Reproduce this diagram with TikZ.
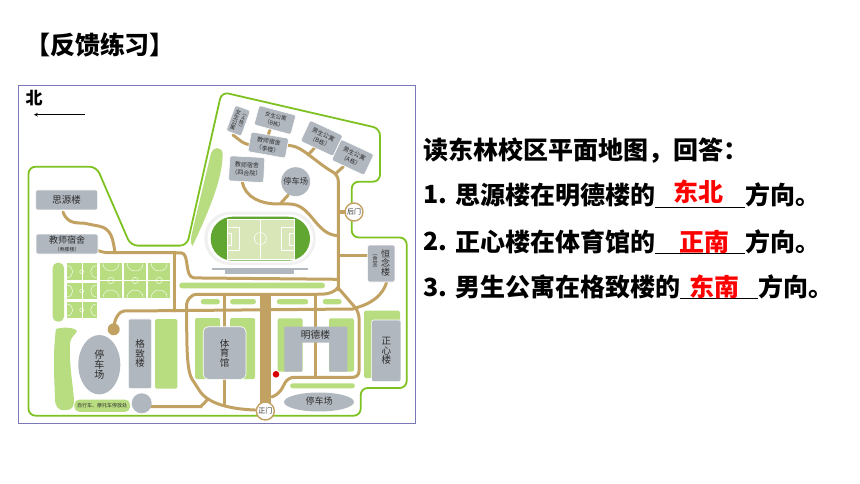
\documentclass[tikz,border=0pt]{standalone}
\usepackage{xcolor}
\usepackage{fontspec}
\setmainfont{Noto Sans CJK SC}
\definecolor{mapfence}{RGB}{126,194,34}
\definecolor{maproad}{RGB}{194,162,99}
\definecolor{mapgrey}{RGB}{177,183,191}
\definecolor{maplawn}{RGB}{184,220,128}
\definecolor{mapfield}{RGB}{98,166,50}
\definecolor{mappitch}{RGB}{217,230,184}
\definecolor{mapframe}{RGB}{123,120,184}
\definecolor{maptext}{RGB}{45,45,45}
\newcommand{\fs}[1]{\fontsize{#1}{#1}\selectfont}
\newcommand{\fl}[1]{\fontsize{#1}{\dimexpr#1pt*13/10\relax}\selectfont}
\tikzset{
  road/.style={draw=maproad, line width=3pt, line cap=round, rounded corners=6pt},
  lawn/.style={fill=maplawn, rounded corners=1.5pt},
  pill/.style={fill=maplawn, rounded corners=2.7pt},
  building/.style={fill=mapgrey, draw=white, line width=0.6pt, rounded corners=2pt, inner sep=0pt, text=maptext, align=center, font=\fs{9.5}},
  sublabel/.style={font=\fs{5.5}, text=maptext, align=center, inner sep=0pt},
  gate/.style={circle, draw=maproad, fill=white, line width=1.4pt, minimum size=18pt, inner sep=0pt, text=maptext, font=\fs{7}},
  question/.style={anchor=west, inner sep=0pt, font=\fs{25}\bfseries},
  answer/.style={inner sep=0pt, text=red, font=\fs{25}\bfseries},
  blank/.style={draw=black, line width=0.8pt},
  smallcourt/.pic={
    \fill[maplawn] (-15,-8.3) rectangle (15,8.3);
    \draw[white, line width=0.4pt] (0,-8.3) -- (0,8.3);
    \draw[white, line width=0.4pt] (0,0) circle[radius=2];
    \draw[white, line width=0.4pt] (-15,-6) .. controls (-7,-6) and (-7,6) .. (-15,6);
    \draw[white, line width=0.4pt] (15,-6) .. controls (7,-6) and (7,6) .. (15,6);
  },
  bigcourt/.pic={
    \fill[maplawn] (-10.9,-17.2) rectangle (10.9,17.2);
    \draw[white, line width=0.4pt] (-10.9,0) -- (10.9,0);
    \draw[white, line width=0.4pt] (0,0) circle[radius=3.2];
    \draw[white, line width=0.4pt] (-8,-17.2) .. controls (-8,-7) and (8,-7) .. (8,-17.2);
    \draw[white, line width=0.4pt] (-8,17.2) .. controls (-8,7) and (8,7) .. (8,17.2);
  }
}
\begin{document}
\begin{tikzpicture}[x=1pt, y=-1pt]
  \useasboundingbox (0,0) rectangle (860,484);
  % Title
  \node[inner sep=0pt, font=\fs{25}\bfseries] (title) at (100, 45) {【反馈练习】};

  % Map frame and north arrow
  \draw[mapframe, line width=0.8pt] (18, 85.5) rectangle (415.5, 423);
  \node[inner sep=0pt, font=\fs{17}\bfseries] (north) at (34, 98) {北};
  \coordinate (arrowstart) at (85, 114.7);
  \coordinate (arrowend) at (34, 114.7);
  \draw[-stealth, line width=0.7pt] (arrowstart) -- (arrowend);

  % Campus fence
  \draw[mapfence, line width=1.8pt, rounded corners=7pt] (28.5, 240) -- (28.5, 166.7) -- (96.5, 166.7)
    -- (130.7, 245.6) -- (187, 245.6) -- (221.6, 92) -- (380, 128.5) -- (380, 181.7) -- (351.7, 181.7)
    -- (351.7, 237.5) -- (406.7, 237.5) -- (406.7, 388) -- (360.7, 388) -- (360.7, 415.7) -- (28.5, 415.7) -- cycle;

  % Lawns
  \fill[maplawn] (192.5, 246) .. controls (190, 243) and (191, 238) .. (192, 233) -- (211, 153)
    .. controls (213, 147) and (221, 146) .. (222.6, 153) .. controls (223, 175) and (212, 205) .. (192.5, 246) -- cycle;
  \fill[lawn, rounded corners=5pt] (52.7, 262.7) rectangle (64, 321.7);
  \fill[maplawn] (56, 329) .. controls (62, 327) and (74, 327) .. (77, 331) .. controls (76, 335) and (70, 336) .. (70, 345)
    .. controls (69, 365) and (73, 385) .. (74, 400) .. controls (74, 407) and (72, 410) .. (66, 410)
    .. controls (58, 411) and (55, 407) .. (55, 398) .. controls (54, 375) and (53, 350) .. (56, 329) -- cycle;
  \fill[lawn] (155, 319) rectangle (177.3, 388.7);
  \fill[lawn] (195, 318) rectangle (220, 379);
  \fill[lawn] (230, 318) rectangle (255, 379);
  \fill[lawn] (277.7, 318.3) rectangle (302.7, 371.7);
  \fill[lawn] (329, 318.3) rectangle (354, 371.7);
  \fill[lawn] (364, 310.7) rectangle (400, 378);
  \fill[pill] (179.3, 282.7) rectangle (325, 288.3);
  \fill[pill] (200.7, 299) rectangle (220, 304.3);
  \fill[pill] (230, 299) rectangle (256, 304.3);
  \fill[pill] (276.7, 299) rectangle (308.3, 304.3);
  \fill[pill] (322.7, 299) rectangle (341.7, 304.3);
  \fill[pill] (290, 383.3) rectangle (355, 388.3);

  % Sports courts
  \foreach \y in {271.7, 291, 310}
    \pic at (81.7, \y) {smallcourt};
  \foreach \x in {110.9, 135.1, 159.2}
    \pic at (\x, 280.5) {bigcourt};

  % Stadium
  \fill[black!6, rounded corners=26pt] (204.3, 211.7) rectangle (315.7, 265);
  \fill[white, rounded corners=24pt] (207.5, 214.5) rectangle (313, 262.5);
  \fill[mapfield, rounded corners=22pt] (210.7, 216.7) rectangle (310, 260.7);
  \fill[mappitch] (227, 219) rectangle (294, 259.3);
  \draw[white, line width=0.6pt] (227, 219) rectangle (294, 259.3);
  \draw[white, line width=0.6pt] (260.3, 219) -- (260.3, 259.3);
  \draw[white, line width=0.6pt] (260.3, 238.5) circle[radius=6];
  \draw[white, line width=0.6pt] (227, 227.3) rectangle (239.3, 250.7);
  \draw[white, line width=0.6pt] (227, 233.3) rectangle (231.7, 245);
  \draw[white, line width=0.6pt] (281.7, 227.3) rectangle (294, 250.7);
  \draw[white, line width=0.6pt] (289.3, 233.3) rectangle (294, 245);
  \fill[mapgrey] (211.7, 268.3) rectangle (307.7, 269.6);
  \fill[mapgrey] (225.3, 269) rectangle (294, 274);

  % Roads
  \draw[maproad, line width=11pt] (265.5, 295) -- (265.5, 405);
  \draw[road] (233, 135) -- (246, 145) -- (290, 145) .. controls (305, 150) and (320, 165) .. (338.3, 175)
    -- (338.3, 290);
  \draw[road] (270, 130) -- (267.3, 137);
  \draw[road] (315.7, 146.7) -- (308, 155);
  \draw[road] (343.3, 166.7) -- (336, 173.3);
  \draw[road] (242.3, 181.7) .. controls (245, 198) and (262, 204) .. (283.3, 204)
    .. controls (312, 204) and (315, 235) .. (338.3, 235.7);
  \draw[road] (288.3, 195) -- (280.7, 203.3);
  \draw[road] (338.3, 212) -- (354, 212);
  \draw[road] (338.3, 255) -- (367.7, 255);
  \draw[road] (386.7, 282) .. controls (383, 295) and (372, 304) .. (353.3, 308.5);
  \draw[road] (90, 248) .. controls (102, 252) and (104, 252.7) .. (115, 252.7) -- (175, 252.7)
    .. controls (190, 253) and (184, 277.5) .. (200, 278) -- (338.3, 279.3);
  \draw[road] (63, 212) .. controls (68, 226) and (80, 222) .. (92, 225) .. controls (112, 228) and (113, 240) .. (115, 252.7);
  \draw[road] (174.3, 252.7) -- (174.3, 311);
  \draw[road] (113.7, 329) .. controls (114, 318) and (120, 311) .. (130, 311) -- (353.3, 309);
  \draw[road] (255, 410) .. controls (228, 409) and (207, 403) .. (196, 385)
    .. controls (187, 372) and (186.7, 350) .. (186.7, 310) .. controls (186.7, 300) and (192, 294.3) .. (202, 294.3)
    -- (316.7, 294.3) .. controls (330, 294) and (336, 291) .. (338.3, 287);
  \draw[road] (224, 294.3) -- (224, 405);
  \draw[road] (315.5, 294.3) -- (315.5, 377);
  \draw[road] (338.3, 288) -- (359, 312) -- (359, 377.3) -- (288, 377.3) -- (279, 394) -- (271.7, 397);
  \draw[road] (145, 406.7) -- (195, 406.7) .. controls (200, 406.7) and (204, 404) .. (207, 400);
  \fill[maproad] (113.7, 329.3) circle[radius=6];

  % Buildings
  \node[building, minimum width=62pt, minimum height=20pt] (siyuan) at (66.7, 200) {思源楼};
  \node[building, minimum width=62pt, minimum height=20pt] (jiaoshi) at (67, 244) {};
  \node[inner sep=0pt, font=\fs{9}, text=maptext] (jiaoshitxt) at (67, 240) {教师宿舍};
  \node[sublabel, font=\fs{5}] (jiaoshisub) at (67, 249.5) {（寿滕楼）};
  \node[building, minimum width=23.4pt, minimum height=69.7pt] (gezhi) at (140, 353.8) {格\\致\\楼};
  \node[building, rounded corners=5pt, minimum width=42.7pt, minimum height=52.6pt] (tiyu) at (224.6, 353) {体\\育\\馆};
  \node[building, minimum width=29.3pt, minimum height=61.7pt] (zhengxin) at (386.3, 350.8) {正\\心\\楼};
  \node[building, minimum width=27.3pt, minimum height=37pt] (hengnian) at (381.3, 263.5) {};
  \node[inner sep=0pt, align=center, font=\fs{9}, text=maptext] (hengniantxt) at (385.5, 263.3) {恒\\念\\楼};
  \node[sublabel, font=\fs{5}] (hengniansub) at (375, 262.5) {︵\\食\\堂\\︶};
  \fill[mapgrey] (284.3, 326.7) -- (347.3, 326.7) -- (347.3, 371.7) -- (329.3, 371.7) -- (329.3, 342.7)
    -- (302, 342.7) -- (302, 371.7) -- (284.3, 371.7) -- cycle;
  \node[inner sep=0pt, font=\fs{9.7}, text=maptext] (mingde) at (315.5, 334.7) {明德楼};

  % Dormitories on the north side
  \node[building, rotate=-20, minimum width=16pt, minimum height=27pt] (nvA) at (238.3, 120.7) {};
  \node[rotate=-20, sublabel, font=\fs{5.5}] (nvAtxt) at (235.5, 120) {女\\生\\公\\寓};
  \node[rotate=-20, sublabel, font=\fs{5}] (nvAsub) at (242, 121.5) {︵\\A\\栋\\︶};
  \node[building, rotate=-15, minimum width=38pt, minimum height=20pt, font=\fl{5.5}] (nvB) at (275, 120) {女生公寓\\（B栋）};
  \node[building, rotate=-10, minimum width=38pt, minimum height=20pt, font=\fl{6}] (lilou) at (268.3, 145) {教师宿舍\\（李楼）};
  \node[building, rotate=-25, minimum width=36pt, minimum height=23pt, font=\fl{6}] (nanB) at (321.7, 138.3) {男生公寓\\（B栋）};
  \node[building, rotate=-25, minimum width=36pt, minimum height=23pt, font=\fl{6}] (nanA) at (352.7, 157.3) {男生公寓\\（A栋）};
  \node[building, rotate=-3, minimum width=35pt, minimum height=25pt, font=\fl{6}] (siheyuan) at (246.7, 169.2) {教师宿舍\\（四合院）};

  % Car parks and small round plots
  \node[building, circle, draw=none, minimum size=29pt, font=\fs{8.3}] (parktop) at (295.7, 181.7) {停车场};
  \fill[mapgrey] (99.3, 364.7) ellipse[x radius=21, y radius=29.7];
  \node[inner sep=0pt, align=center, font=\fs{10}, text=maptext] (parkwest) at (99.3, 364.7) {停\\车\\场};
  \fill[mapgrey] (319, 402) ellipse[x radius=35, y radius=9.5];
  \node[inner sep=0pt, font=\fs{9}, text=maptext] (parksouth) at (319, 401.5) {停车场};
  \fill[mapgrey] (141.7, 403.3) circle[radius=10];
  \node[pill, rounded corners=5pt, minimum width=55.7pt, minimum height=12.3pt, inner sep=0pt, font=\fs{5}, text=maptext] (bikes) at (102.2, 405.7) {自行车、摩托车停放处};

  % Gates and the marked spot
  \node[gate] (backgate) at (354, 212) {后门};
  \node[gate] (frontgate) at (265.3, 411) {正门};
  \fill[red!85!black] (276, 374.3) circle[radius=3.3];

  % Questions
  \node[question] (intro) at (423, 151) {读东林校区平面地图，回答：};
  \node[question] (numone) at (423, 195) {1.};
  \node[question] (qone) at (455, 195) {思源楼在明德楼的};
  \node[question] (qoneend) at (745, 195) {方向。};
  \draw[blank] (qone.east |- 0, 207) -- (qoneend.west |- 0, 207);
  \node[answer] (aone) at (698.6, 191.7) {东北};
  \node[question] (numtwo) at (423, 241.7) {2.};
  \node[question] (qtwo) at (455, 241.7) {正心楼在体育馆的};
  \node[question] (qtwoend) at (745, 241.7) {方向。};
  \draw[blank] (qtwo.east |- 0, 253) -- (qtwoend.west |- 0, 253);
  \node[answer] (atwo) at (704, 241.7) {正南};
  \node[question] (numthree) at (423, 287.3) {3.};
  \node[question] (qthree) at (455, 287.3) {男生公寓在格致楼的};
  \node[question] (qthreeend) at (758, 287.3) {方向。};
  \draw[blank] (qthree.east |- 0, 298.5) -- (qthreeend.west |- 0, 298.5);
  \node[answer] (athree) at (714, 286.7) {东南};
\end{tikzpicture}
\end{document}
